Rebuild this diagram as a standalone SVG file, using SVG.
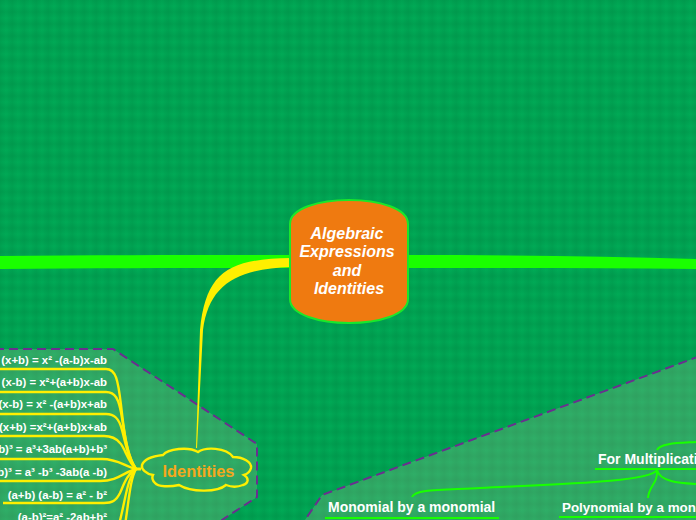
<svg xmlns="http://www.w3.org/2000/svg" width="696" height="520" viewBox="0 0 696 520">
<style>
text{font-family:"Liberation Sans",Arial,sans-serif;font-weight:bold}
.panel{fill:#e0c0ac;fill-opacity:.21;stroke:#6a2f8f;stroke-width:2;stroke-dasharray:9 5}
.f{fill:#fff;font-size:11.4px;text-anchor:end}
.y{fill:none;stroke:#ffef00;stroke-width:2.4}
.g{fill:none;stroke:#19ff00;stroke-width:2}
.h{fill:#fff;font-size:14px}
</style>
<defs>
<linearGradient id="gx"><stop offset="0" stop-color="#007a3c" stop-opacity=".2"/><stop offset=".5" stop-color="#007a3c" stop-opacity="0"/><stop offset="1" stop-color="#007a3c" stop-opacity=".2"/></linearGradient>
<linearGradient id="gy" x2="0" y2="1"><stop offset="0" stop-color="#007a3c" stop-opacity=".2"/><stop offset=".5" stop-color="#007a3c" stop-opacity="0"/><stop offset="1" stop-color="#007a3c" stop-opacity=".2"/></linearGradient>
<pattern id="grid" width="12" height="12" patternUnits="userSpaceOnUse">
<rect width="12" height="12" fill="#00aa56"/>
<rect width="12" height="12" fill="url(#gx)"/>
<rect width="12" height="12" fill="url(#gy)"/>
</pattern>
</defs>
<rect width="696" height="520" fill="url(#grid)"/>
<polygon class="panel" points="-5,349 113,349 257,444 257,497 222,520 222,530 -5,530"/>
<polygon class="panel" points="700,356 322,495 305,520 305,530 700,530"/>
<g id="connectors">
<path d="M0,256 C100,255 200,255 292,255 L292,268 C200,268 100,268 0,269Z" fill="#1aff00"/>
<path d="M406,255 C500,255 600,256 696,259 L696,269 C600,268 500,268 406,268Z" fill="#1aff00"/>
<path d="M291,258 C228,259 206,272 200,330 L196,448 L197,448 L203,330 C209,285 236,269 291,267Z" fill="#ffef00"/>
<path d="M134,469 H141" fill="none" stroke="#ffef00" stroke-width="3"/>
<path class="y" d="M136,469 C126,455 124,430 121,405 C118,380 116,369 106,369 H0"/>
<path class="y" d="M136,469 C127,455 125,435 122,418 C119,398 115,392 106,392 H0"/>
<path class="y" d="M136,469 C128,458 126,445 122,430 C119,418 114,414 106,414 H0"/>
<path class="y" d="M136,469 C128,462 125,448 120,443 C116,438 112,436 104,436 H0"/>
<path class="y" d="M136,469 C124,466 118,459 102,459 H0"/>
<path class="y" d="M136,469 C124,472 118,481 100,481 H0"/>
<path class="y" d="M136,469 C127,474 124,484 120,493 C116,501 112,503 104,503 H3"/>
<path class="y" d="M136,469 C128,478 126,495 122,512 L119,525"/>
<path class="y" d="M136,469 C130,480 129,500 125,525"/>
<path class="g" d="M657,450 C660,443 680,443 696,442"/>
<path class="g" d="M657,470 C650,482 560,484 480,488 C440,490 415,489 412,497"/>
<path class="g" d="M657,470 C660,482 680,483 696,484"/>
<path class="g" d="M657,470 C658,484 649,485 648,498"/>
</g>
<g id="central">
<path d="M290,224 C290,208 320,200 349,200 C378,200 408,208 408,224 V299 C408,315 378,323 349,323 C320,323 290,315 290,299Z" fill="#ef7a10" stroke="#19e82a" stroke-width="2"/>
<g fill="#fff" font-size="16" font-style="italic" text-anchor="middle">
<text x="347" y="239">Algebraic</text>
<text x="347" y="257">Expressions</text>
<text x="347" y="276">and</text>
<text x="349" y="294">Identities</text>
</g>
</g>
<g id="identities">
<path d="M163,455 C168,449 188,446 198,452 C205,447 226,447 233,457 C243,457 252,462 251,468 C250,472 247,474 244,475 C249,478 249,483 243,485 C238,487 231,487 226,485 C218,492 192,493 179,485 C170,487 158,487 155,483 C152,480 152,477 153,475 C146,474 141,469 142,465 C144,459 154,456 163,455Z" fill="none" stroke="#ffef00" stroke-width="2.4"/>
<text x="198.5" y="477" font-size="16.4" fill="#f5a81c" text-anchor="middle">Identities</text>
</g>
<g id="f1"><text class="f" x="107" y="364">(x+b) = x² -(a-b)x-ab</text></g>
<g id="f2"><text class="f" x="107" y="386">(x-b) = x²+(a+b)x-ab</text></g>
<g id="f3"><text class="f" x="107" y="408">(x-b) = x² -(a+b)x+ab</text></g>
<g id="f4"><text class="f" x="107" y="431">(x+b) =x²+(a+b)x+ab</text></g>
<g id="f5"><text class="f" x="107" y="453">b)³ = a³+3ab(a+b)+b³</text></g>
<g id="f6"><text class="f" x="107" y="476">b)³ = a³ -b³ -3ab(a -b)</text></g>
<g id="f7"><text class="f" x="107" y="499">(a+b) (a-b) = a² - b²</text></g>
<g id="f8"><text class="f" x="107" y="521">(a-b)²=a² -2ab+b²</text></g>
<g id="multiplication">
<text class="h" x="598" y="464">For Multiplication</text>
<path class="g" d="M595,469 H696"/>
</g>
<g id="monomial">
<text class="h" x="328" y="512">Monomial by a monomial</text>
<path class="g" d="M325,518 H499"/>
</g>
<g id="polynomial">
<text class="h" x="562" y="512" style="font-size:13.4px">Polynomial by a monomial</text>
<path class="g" d="M559,517 H696"/>
</g>
</svg>
